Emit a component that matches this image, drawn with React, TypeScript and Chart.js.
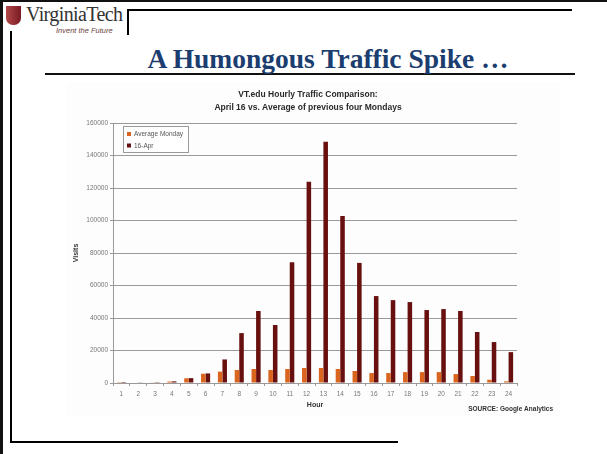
import React, { useEffect, useRef } from "react";
import { Chart, registerables } from "chart.js";

Chart.register(...registerables);

const hours = ["1","2","3","4","5","6","7","8","9","10","11","12","13","14","15","16","17","18","19","20","21","22","23","24"];
const avgMonday = [500, 300, 400, 900, 2900, 5700, 7000, 8000, 8600, 8000, 8600, 9200, 9200, 8600, 7400, 6100, 6100, 6700, 6700, 6700, 5500, 4300, 2000, 1000];
const apr16 = [600, 400, 500, 1000, 3000, 5900, 14500, 30700, 44300, 35700, 74300, 123800, 148400, 102800, 73900, 53500, 51000, 49800, 44900, 45500, 44300, 31400, 25200, 19000];
const seriesLabels = ["Average Monday", "16-Apr"];
const chartTitle = ["VT.edu Hourly Traffic Comparison:", "April 16 vs. Average of previous four Mondays"];
const sourceNote = "SOURCE: Google Analytics";
const yTicks = [0, 20000, 40000, 60000, 80000, 100000, 120000, 140000, 160000];

const FONT = "'Liberation Sans', Arial, sans-serif";

const decorPlugin = {
  id: "decor",
  afterDraw(chart: any) {
    const ctx = chart.ctx;
    const ca = chart.chartArea;
    ctx.save();
    // title
    ctx.fillStyle = "#2a2a2a";
    ctx.font = `bold 8.5px ${FONT}`;
    ctx.textAlign = "center";
    ctx.textBaseline = "middle";
    ctx.fillText(chartTitle[0], 248, 15);
    ctx.fillText(chartTitle[1], 248, 28);
    // source
    ctx.textAlign = "right";
    ctx.font = `bold 6.5px ${FONT}`;
    ctx.fillStyle = "#333";
    ctx.fillText(sourceNote, 493, 329);
    // legend
    const lx = ca.left + 10, ly = ca.top + 3, lw = 65, lh = 26;
    ctx.fillStyle = "#ffffff";
    ctx.fillRect(lx, ly, lw, lh);
    ctx.strokeStyle = "#999";
    ctx.lineWidth = 1;
    ctx.strokeRect(lx + 0.5, ly + 0.5, lw, lh);
    ctx.textAlign = "left";
    ctx.font = `6.5px ${FONT}`;
    chart.data.datasets.forEach((ds: any, i: number) => {
      const cy = ly + 8 + i * 11.5;
      ctx.fillStyle = ds.backgroundColor;
      ctx.fillRect(lx + 4, cy - 2, 4, 4);
      ctx.fillStyle = "#555";
      ctx.fillText(ds.label, lx + 11, cy + 0.5);
    });
    ctx.restore();
  },
};

function TrafficChart() {
  const ref = useRef<HTMLCanvasElement>(null);
  useEffect(() => {
    if (!ref.current) return;
    const chart = new Chart(ref.current, {
      type: "bar",
      data: {
        labels: hours,
        datasets: [
          { label: seriesLabels[0], data: avgMonday, backgroundColor: "#D9651E", borderWidth: 0 },
          { label: seriesLabels[1], data: apr16, backgroundColor: "#681010", borderWidth: 0 },
        ],
      },
      options: {
        responsive: false,
        animation: false,
        layout: { padding: { left: 8, top: 43, right: 43, bottom: 7 } },
        datasets: { bar: { categoryPercentage: 0.54, barPercentage: 1.0 } },
        plugins: { legend: { display: false }, title: { display: false }, tooltip: { enabled: false } },
        scales: {
          x: {
            grid: { drawOnChartArea: false, color: "#999", tickLength: 3 },
            border: { color: "#999" },
            ticks: { color: "#777", font: { family: FONT, size: 6.5 }, padding: 4, maxRotation: 0, autoSkip: false },
            title: { display: true, text: "Hour", color: "#333", font: { family: FONT, size: 7, weight: "bold" }, padding: { top: 2, bottom: 4 } },
            afterFit: (s: any) => { s.height = 30; },
          },
          y: {
            min: 0,
            max: 160000,
            afterBuildTicks: (s: any) => { s.ticks = yTicks.map((v) => ({ value: v })); },
            grid: { color: "#9a9a9a", tickLength: 3 },
            border: { color: "#999" },
            ticks: { color: "#777", font: { family: FONT, size: 6.5 }, padding: 2, callback: (v: any) => String(v) },
            title: { display: true, text: "Visits", color: "#333", font: { family: FONT, size: 7, weight: "bold" }, padding: { top: 4, bottom: 4 } },
            afterFit: (s: any) => { s.width = 45; },
          },
        },
      },
      plugins: [decorPlugin],
    } as any);
    return () => chart.destroy();
  }, []);
  return <canvas ref={ref} width={500} height={340} style={{ position: "absolute", left: 60, top: 80, width: 500, height: 340 }} />;
}

const line = (l: number, t: number, w: number, h: number, c = "#000") => (
  <div style={{ position: "absolute", left: l, top: t, width: w, height: h, background: c }} />
);

export default function App() {
  return (
    <div style={{ position: "fixed", left: 0, top: 0, width: 607, height: 454, background: "#fff", overflow: "hidden" }}>
      {line(0, 0, 607, 2, "#111")}
      {line(0, 0, 3, 454, "#111")}
      {line(127, 9, 445, 2)}
      {line(127, 9, 2, 26)}
      {line(10, 31, 2, 412)}
      {line(10, 441, 388, 2)}
      {line(45, 73, 530, 2, "#111")}
      <div style={{ position: "absolute", left: 67, top: 82, width: 493, height: 335, background: "#fdfdfd" }} />
      {/* logo */}
      <div style={{ position: "absolute", left: 6, top: 6, width: 15, height: 19, background: "linear-gradient(90deg,#b04848,#7a1a22)", borderRadius: "0 0 7px 7px" }} />
      <div style={{ position: "absolute", left: 26, top: 2, fontFamily: "'Liberation Serif', 'Times New Roman', serif", fontSize: 20, color: "#333", lineHeight: "24px", whiteSpace: "nowrap", letterSpacing: -0.6 }}>VirginiaTech</div>
      <div style={{ position: "absolute", left: 56, top: 27, fontFamily: FONT, fontStyle: "italic", fontSize: 7.5, color: "#6a4040", lineHeight: "8px", whiteSpace: "nowrap" }}>Invent the Future</div>
      {/* slide title */}
      <div style={{ position: "absolute", left: 0, width: 656, top: 43, textAlign: "center", fontFamily: "'Liberation Serif', 'Times New Roman', serif", fontWeight: "bold", fontSize: 27.5, color: "#1B3D6F", lineHeight: "31px", whiteSpace: "nowrap" }}>A Humongous Traffic Spike …</div>
      <TrafficChart />
    </div>
  );
}
